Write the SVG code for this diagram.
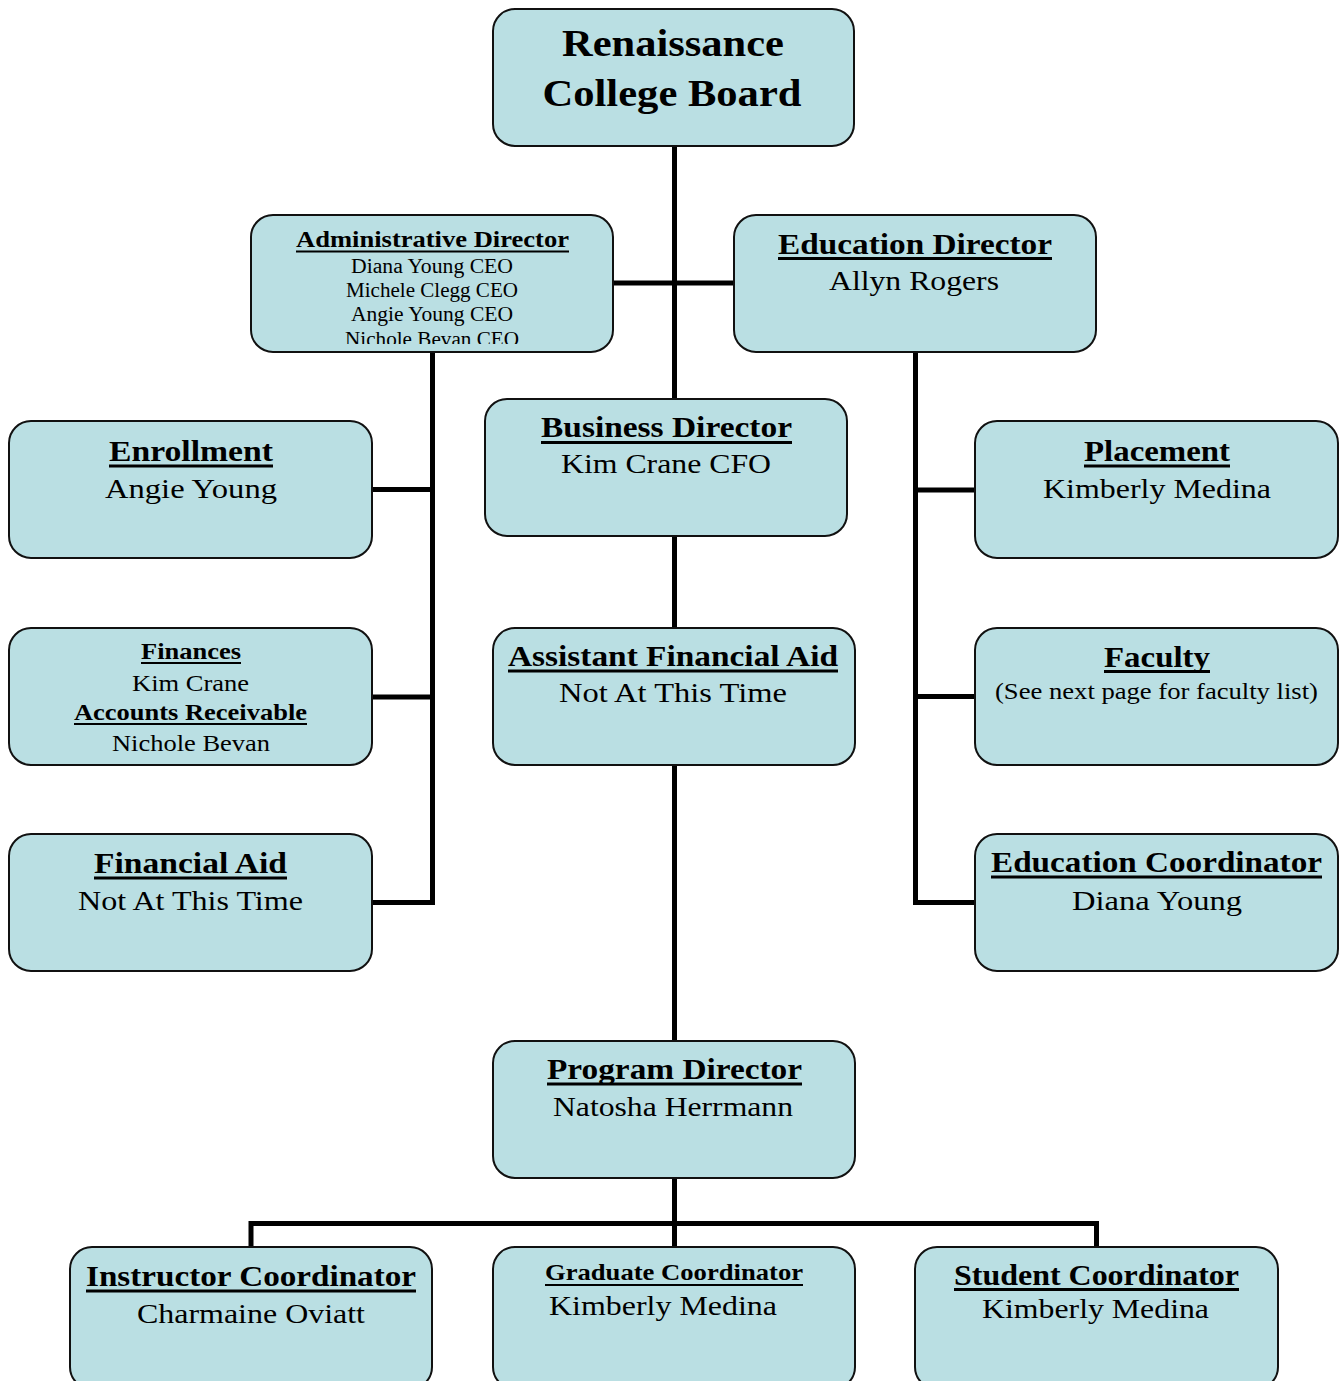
<svg xmlns="http://www.w3.org/2000/svg" width="1341" height="1381" viewBox="0 0 1341 1381" font-family="'Liberation Serif', 'Times New Roman', Times, serif">
<style>
.box{fill:#badfe3;stroke:#111;stroke-width:2}
.c{fill:none;stroke:#000;stroke-width:5;stroke-linejoin:miter;stroke-linecap:butt}
text{fill:#000;text-anchor:middle}
.b{font-weight:bold}
.ul{stroke:#000;stroke-width:3}
.uls{stroke:#000;stroke-width:2.2}
</style>
<defs>
<clipPath id="adminClip"><rect x="252" y="216" width="360" height="128"/></clipPath>
</defs>
<rect width="1341" height="1381" fill="#fff"/>
<g id="connectors">
<path class="c" d="M674.5 146 V399"/>
<path class="c" d="M613 283 H734"/>
<path class="c" d="M432.5 352 V902.5 H372"/>
<path class="c" d="M372 489.5 H432.5"/>
<path class="c" d="M372 697 H432.5"/>
<path class="c" d="M915.5 352 V902.5 H975"/>
<path class="c" d="M915.5 490 H975"/>
<path class="c" d="M915.5 696.5 H975"/>
<path class="c" d="M674.5 536 V628"/>
<path class="c" d="M674.5 765 V1041"/>
<path class="c" d="M674.5 1178 V1247"/>
<path class="c" d="M251 1247 V1223.5 H1096.5 V1247"/>
</g>
<g id="board">
<rect class="box" x="493" y="9" width="361" height="137" rx="22"/>
<text class="b" x="673" y="56" font-size="38" textLength="222" lengthAdjust="spacingAndGlyphs">Renaissance</text>
<text class="b" x="672" y="106" font-size="38" textLength="259" lengthAdjust="spacingAndGlyphs">College Board</text>
</g>
<g id="admin-director">
<rect class="box" x="251" y="215" width="362" height="137" rx="22"/>
<text class="b" x="432.5" y="247" font-size="24" textLength="273" lengthAdjust="spacingAndGlyphs">Administrative Director</text>
<line class="uls" x1="296" y1="251.5" x2="569" y2="251.5"/>
<text x="432" y="273" font-size="20" textLength="162" lengthAdjust="spacingAndGlyphs">Diana Young CEO</text>
<text x="432" y="297" font-size="20" textLength="172" lengthAdjust="spacingAndGlyphs">Michele Clegg CEO</text>
<text x="432" y="321" font-size="20" textLength="162" lengthAdjust="spacingAndGlyphs">Angie Young CEO</text>
<text x="432" y="346" font-size="20" textLength="174" lengthAdjust="spacingAndGlyphs" clip-path="url(#adminClip)">Nichole Bevan CEO</text>
</g>
<g id="education-director">
<rect class="box" x="734" y="215" width="362" height="137" rx="22"/>
<text class="b" x="915" y="254" font-size="30" textLength="274" lengthAdjust="spacingAndGlyphs">Education Director</text>
<line class="ul" x1="778" y1="258.5" x2="1052" y2="258.5"/>
<text x="914" y="290" font-size="27" textLength="170" lengthAdjust="spacingAndGlyphs">Allyn Rogers</text>
</g>
<g id="business-director">
<rect class="box" x="485" y="399" width="362" height="137" rx="22"/>
<text class="b" x="666.5" y="437" font-size="30" textLength="251" lengthAdjust="spacingAndGlyphs">Business Director</text>
<line class="ul" x1="541" y1="442.5" x2="792" y2="442.5"/>
<text x="666" y="473" font-size="27" textLength="210" lengthAdjust="spacingAndGlyphs">Kim Crane CFO</text>
</g>
<g id="assistant-financial-aid">
<rect class="box" x="493" y="628" width="362" height="137" rx="22"/>
<text class="b" x="673" y="666" font-size="30" textLength="330" lengthAdjust="spacingAndGlyphs">Assistant Financial Aid</text>
<line class="ul" x1="508" y1="671" x2="838" y2="671"/>
<text x="673" y="702" font-size="27" textLength="228" lengthAdjust="spacingAndGlyphs">Not At This Time</text>
</g>
<g id="enrollment">
<rect class="box" x="9" y="421" width="363" height="137" rx="22"/>
<text class="b" x="191" y="461" font-size="30" textLength="164" lengthAdjust="spacingAndGlyphs">Enrollment</text>
<line class="ul" x1="109" y1="466" x2="273" y2="466"/>
<text x="191" y="498" font-size="27" textLength="172" lengthAdjust="spacingAndGlyphs">Angie Young</text>
</g>
<g id="finances">
<rect class="box" x="9" y="628" width="363" height="137" rx="22"/>
<text class="b" x="191" y="659" font-size="24" textLength="100" lengthAdjust="spacingAndGlyphs">Finances</text>
<line class="uls" x1="141" y1="663" x2="241" y2="663"/>
<text x="190.5" y="691" font-size="24" textLength="117" lengthAdjust="spacingAndGlyphs">Kim Crane</text>
<text class="b" x="190.5" y="720" font-size="24" textLength="233" lengthAdjust="spacingAndGlyphs">Accounts Receivable</text>
<line class="uls" x1="74" y1="724" x2="307" y2="724"/>
<text x="191" y="751" font-size="24" textLength="158" lengthAdjust="spacingAndGlyphs">Nichole Bevan</text>
</g>
<g id="financial-aid">
<rect class="box" x="9" y="834" width="363" height="137" rx="22"/>
<text class="b" x="190.5" y="873" font-size="30" textLength="193" lengthAdjust="spacingAndGlyphs">Financial Aid</text>
<line class="ul" x1="94" y1="878" x2="287" y2="878"/>
<text x="190.5" y="910" font-size="27" textLength="225" lengthAdjust="spacingAndGlyphs">Not At This Time</text>
</g>
<g id="placement">
<rect class="box" x="975" y="421" width="363" height="137" rx="22"/>
<text class="b" x="1157" y="461" font-size="30" textLength="146" lengthAdjust="spacingAndGlyphs">Placement</text>
<line class="ul" x1="1084" y1="466" x2="1230" y2="466"/>
<text x="1157" y="498" font-size="27" textLength="228" lengthAdjust="spacingAndGlyphs">Kimberly Medina</text>
</g>
<g id="faculty">
<rect class="box" x="975" y="628" width="363" height="137" rx="22"/>
<text class="b" x="1157" y="667" font-size="30" textLength="106" lengthAdjust="spacingAndGlyphs">Faculty</text>
<line class="ul" x1="1104" y1="671.5" x2="1210" y2="671.5"/>
<text x="1156.5" y="699" font-size="24" textLength="323" lengthAdjust="spacingAndGlyphs">(See next page for faculty list)</text>
</g>
<g id="education-coordinator">
<rect class="box" x="975" y="834" width="363" height="137" rx="22"/>
<text class="b" x="1156.5" y="872" font-size="30" textLength="331" lengthAdjust="spacingAndGlyphs">Education Coordinator</text>
<line class="ul" x1="991" y1="877" x2="1322" y2="877"/>
<text x="1157" y="910" font-size="27" textLength="170" lengthAdjust="spacingAndGlyphs">Diana Young</text>
</g>
<g id="program-director">
<rect class="box" x="493" y="1041" width="362" height="137" rx="22"/>
<text class="b" x="674.5" y="1079" font-size="30" textLength="255" lengthAdjust="spacingAndGlyphs">Program Director</text>
<line class="ul" x1="547" y1="1084" x2="802" y2="1084"/>
<text x="673" y="1116" font-size="27" textLength="240" lengthAdjust="spacingAndGlyphs">Natosha Herrmann</text>
</g>
<g id="instructor-coordinator">
<rect class="box" x="70" y="1247" width="362" height="142" rx="22"/>
<text class="b" x="251" y="1286" font-size="30" textLength="330" lengthAdjust="spacingAndGlyphs">Instructor Coordinator</text>
<line class="ul" x1="86" y1="1291" x2="416" y2="1291"/>
<text x="251" y="1323" font-size="27" textLength="228" lengthAdjust="spacingAndGlyphs">Charmaine Oviatt</text>
</g>
<g id="graduate-coordinator">
<rect class="box" x="493" y="1247" width="362" height="142" rx="22"/>
<text class="b" x="674" y="1280" font-size="24" textLength="258" lengthAdjust="spacingAndGlyphs">Graduate Coordinator</text>
<line class="uls" x1="545" y1="1285" x2="803" y2="1285"/>
<text x="663" y="1315" font-size="27" textLength="228" lengthAdjust="spacingAndGlyphs">Kimberly Medina</text>
</g>
<g id="student-coordinator">
<rect class="box" x="915" y="1247" width="363" height="142" rx="22"/>
<text class="b" x="1096.5" y="1285" font-size="30" textLength="285" lengthAdjust="spacingAndGlyphs">Student Coordinator</text>
<line class="ul" x1="954" y1="1289.5" x2="1239" y2="1289.5"/>
<text x="1095.5" y="1318" font-size="27" textLength="227" lengthAdjust="spacingAndGlyphs">Kimberly Medina</text>
</g>
</svg>
